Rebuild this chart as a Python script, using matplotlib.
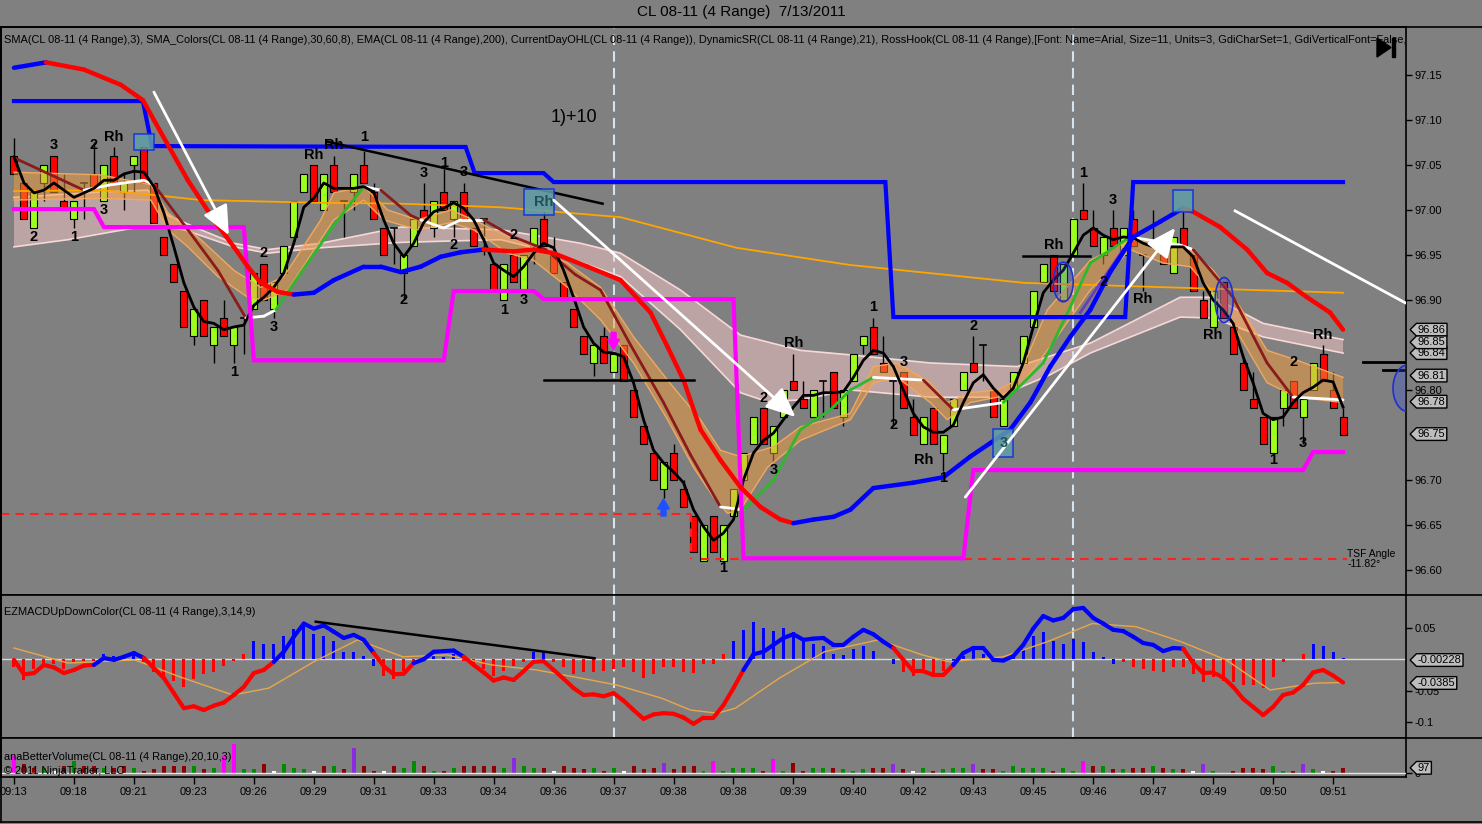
import numpy as np
import matplotlib
matplotlib.use("Agg")
import matplotlib.pyplot as plt
from matplotlib.patches import Rectangle, Ellipse, Polygon
from matplotlib.collections import LineCollection
from matplotlib.path import Path
from matplotlib.lines import Line2D

plt.rcParams['font.family'] = ['Liberation Sans', 'DejaVu Sans']

# ---------------------------------------------------------------- data
time_labels = ["09:13", "09:18", "09:21", "09:23", "09:26", "09:29", "09:31", "09:33",
               "09:34", "09:36", "09:37", "09:38", "09:38", "09:39", "09:40", "09:42",
               "09:43", "09:45", "09:46", "09:47", "09:49", "09:50", "09:51"]
time_tick_bars = [0, 6, 12, 18, 24, 30, 36, 42, 48, 54, 60, 66, 72, 78, 84, 90,
                  96, 102, 108, 114, 120, 126, 132]

opens = [97.06, 97.03, 96.98, 97.03, 97.06, 97.01, 96.99, 97.03, 97.04, 97.01,
         97.06, 97.02, 97.05, 97.07, 97.03, 96.97, 96.94, 96.91, 96.86, 96.90,
         96.85, 96.88, 96.85, 96.88, 96.89, 96.94, 96.89, 96.93, 96.97, 97.02,
         97.05, 97.00, 97.05, 97.01, 97.02, 97.05, 97.02, 96.98, 96.98, 96.93,
         96.96, 97.00, 96.98, 97.02, 96.99, 97.02, 96.98, 96.99, 96.94, 96.90,
         96.95, 96.91, 96.96, 96.99, 96.95, 96.92, 96.89, 96.86, 96.83, 96.86,
         96.82, 96.85, 96.80, 96.76, 96.73, 96.69, 96.73, 96.69, 96.66, 96.61,
         96.66, 96.61, 96.66, 96.70, 96.74, 96.78, 96.73, 96.77, 96.81, 96.79,
         96.77, 96.81, 96.82, 96.77, 96.81, 96.85, 96.87, 96.83, 96.81, 96.82,
         96.77, 96.74, 96.78, 96.73, 96.76, 96.80, 96.83, 96.85, 96.80, 96.76,
         96.80, 96.83, 96.87, 96.92, 96.95, 96.90, 96.95, 97.00, 96.98, 96.95,
         96.98, 96.95, 96.99, 96.95, 96.96, 96.95, 96.93, 96.98, 96.95, 96.90,
         96.87, 96.92, 96.87, 96.83, 96.79, 96.77, 96.73, 96.78, 96.81, 96.77,
         96.80, 96.84, 96.80, 96.77]
highs = [97.08, 97.03, 97.02, 97.05, 97.06, 97.04, 97.01, 97.03, 97.075, 97.05,
         97.07, 97.04, 97.06, 97.07, 97.03, 96.97, 96.94, 96.91, 96.89, 96.90,
         96.87, 96.90, 96.87, 96.88, 96.93, 96.94, 96.92, 96.96, 97.01, 97.04,
         97.05, 97.04, 97.06, 97.01, 97.04, 97.065, 97.03, 96.98, 96.98, 96.95,
         96.99, 97.03, 97.01, 97.045, 97.01, 97.03, 96.98, 96.99, 96.94, 96.94,
         96.95, 96.95, 96.98, 97.00, 96.97, 96.92, 96.89, 96.86, 96.85, 96.87,
         96.84, 96.85, 96.80, 96.76, 96.73, 96.72, 96.74, 96.70, 96.66, 96.65,
         96.66, 96.65, 96.69, 96.73, 96.77, 96.78, 96.76, 96.80, 96.84, 96.81,
         96.80, 96.81, 96.82, 96.80, 96.84, 96.86, 96.88, 96.86, 96.81, 96.82,
         96.79, 96.77, 96.78, 96.75, 96.79, 96.82, 96.86, 96.85, 96.80, 96.79,
         96.82, 96.86, 96.91, 96.94, 96.95, 96.94, 96.99, 97.03, 97.00, 96.97,
         97.00, 96.98, 97.00, 96.95, 97.00, 96.95, 96.97, 97.00, 96.95, 96.91,
         96.91, 96.92, 96.87, 96.84, 96.82, 96.77, 96.77, 96.80, 96.81, 96.79,
         96.83, 96.85, 96.82, 96.78]
lows = [97.04, 96.99, 96.98, 97.01, 97.02, 97.00, 96.98, 96.99, 97.025, 97.01,
        97.03, 97.00, 97.02, 97.03, 96.985, 96.95, 96.92, 96.87, 96.85, 96.86,
        96.83, 96.86, 96.83, 96.84, 96.89, 96.90, 96.88, 96.93, 96.97, 97.02,
        97.01, 97.00, 97.02, 96.97, 97.00, 97.03, 96.99, 96.95, 96.94, 96.90,
        96.96, 96.99, 96.97, 97.00, 96.97, 96.99, 96.96, 96.95, 96.91, 96.90,
        96.92, 96.91, 96.94, 96.96, 96.93, 96.90, 96.87, 96.84, 96.815, 96.83,
        96.82, 96.81, 96.77, 96.74, 96.70, 96.68, 96.70, 96.67, 96.62, 96.61,
        96.62, 96.61, 96.66, 96.70, 96.74, 96.74, 96.72, 96.77, 96.80, 96.78,
        96.77, 96.77, 96.78, 96.76, 96.81, 96.84, 96.84, 96.82, 96.76, 96.78,
        96.75, 96.74, 96.74, 96.71, 96.76, 96.80, 96.82, 96.81, 96.77, 96.76,
        96.80, 96.83, 96.87, 96.92, 96.91, 96.90, 96.95, 96.99, 96.96, 96.94,
        96.96, 96.95, 96.96, 96.91, 96.96, 96.94, 96.93, 96.96, 96.91, 96.88,
        96.87, 96.88, 96.84, 96.80, 96.78, 96.74, 96.73, 96.76, 96.78, 96.74,
        96.80, 96.81, 96.78, 96.75]
closes = [97.04, 96.99, 97.02, 97.05, 97.02, 97.00, 97.01, 97.03, 97.025, 97.05,
          97.03, 97.03, 97.06, 97.03, 96.985, 96.95, 96.92, 96.87, 96.89, 96.86,
          96.87, 96.86, 96.87, 96.88, 96.93, 96.90, 96.92, 96.96, 97.01, 97.04,
          97.01, 97.04, 97.02, 97.01, 97.04, 97.03, 96.99, 96.95, 96.98, 96.95,
          96.99, 96.99, 97.01, 97.00, 97.01, 96.99, 96.96, 96.99, 96.91, 96.94,
          96.92, 96.95, 96.98, 96.96, 96.93, 96.90, 96.87, 96.84, 96.85, 96.83,
          96.84, 96.81, 96.77, 96.74, 96.70, 96.72, 96.70, 96.67, 96.62, 96.65,
          96.62, 96.65, 96.69, 96.73, 96.77, 96.74, 96.76, 96.80, 96.80, 96.78,
          96.80, 96.81, 96.78, 96.80, 96.84, 96.86, 96.84, 96.82, 96.81, 96.78,
          96.75, 96.77, 96.74, 96.75, 96.79, 96.82, 96.82, 96.85, 96.77, 96.79,
          96.82, 96.86, 96.91, 96.94, 96.91, 96.94, 96.99, 96.99, 96.96, 96.97,
          96.96, 96.98, 96.96, 96.95, 96.965, 96.94, 96.97, 96.96, 96.91, 96.88,
          96.91, 96.88, 96.84, 96.80, 96.78, 96.74, 96.77, 96.80, 96.78, 96.79,
          96.83, 96.81, 96.78, 96.75]

# SMA(3) line (black), one value per bar
sma3 = [97.059, 97.030, 97.019, 97.022, 97.030, 97.022, 97.014, 97.019, 97.024, 97.033,
        97.033, 97.040, 97.043, 97.042, 97.026, 96.997, 96.959, 96.919, 96.892, 96.876,
        96.874, 96.867, 96.870, 96.872, 96.894, 96.903, 96.914, 96.930, 96.963, 97.003,
        97.013, 97.030, 97.024, 97.024, 97.024, 97.026, 97.020, 96.989, 96.963, 96.948,
        96.963, 96.986, 96.998, 97.002, 97.008, 97.002, 96.989, 96.967, 96.941, 96.933,
        96.926, 96.937, 96.952, 96.963, 96.958, 96.933, 96.903, 96.870, 96.852, 96.842,
        96.841, 96.837, 96.808, 96.767, 96.733, 96.719, 96.709, 96.697, 96.667, 96.648,
        96.633, 96.641, 96.656, 96.700, 96.730, 96.744, 96.752, 96.767, 96.781, 96.794,
        96.794, 96.797, 96.797, 96.798, 96.814, 96.833, 96.844, 96.841, 96.826, 96.800,
        96.774, 96.759, 96.753, 96.753, 96.761, 96.786, 96.808, 96.817, 96.802, 96.791,
        96.802, 96.830, 96.870, 96.908, 96.922, 96.933, 96.952, 96.972, 96.980, 96.972,
        96.967, 96.970, 96.969, 96.963, 96.959, 96.958, 96.959, 96.959, 96.948, 96.919,
        96.900, 96.889, 96.874, 96.837, 96.808, 96.774, 96.767, 96.770, 96.786, 96.797,
        96.803, 96.811, 96.809, 96.781]

# DynamicSR line (red falling / blue rising) vertices
dsr_x = [0, 3.2, 7, 10.7, 12.9, 14, 17.4, 20, 22, 23.4, 24.7, 26.4, 28, 30, 32, 35, 36.7,
         38.7, 40.7, 42.7, 44.7, 47, 50, 52, 54, 57.4, 60.7, 63.7, 65.4, 67, 68.7, 70.7,
         72.7, 74.7, 76.7, 78, 80, 82, 83.7, 86, 90, 93, 95.7, 97.7, 99.7, 101.7, 103.7,
         105.7, 107.7, 109.7, 112, 114.7, 117, 118, 120.7, 123.4, 125.4, 127.4, 129.4,
         131.7, 133]
dsr_p = [97.158, 97.164, 97.156, 97.139, 97.122, 97.100, 97.033, 96.989, 96.959, 96.937,
         96.919, 96.909, 96.906, 96.908, 96.922, 96.937, 96.937, 96.931, 96.937, 96.948,
         96.953, 96.956, 96.954, 96.956, 96.952, 96.937, 96.922, 96.886, 96.848, 96.811,
         96.756, 96.722, 96.692, 96.670, 96.656, 96.652, 96.656, 96.659, 96.667, 96.691,
         96.697, 96.703, 96.726, 96.741, 96.756, 96.786, 96.826, 96.859, 96.889, 96.931,
         96.970, 96.987, 97.002, 96.998, 96.981, 96.956, 96.930, 96.919, 96.903, 96.886,
         96.867]
dsr_color_switch = [(0, 'blue'), (1, 'red'), (12, 'blue'), (21, 'red'), (35, 'blue'), (52, 'red')]

# Upper step line (blue) and CurrentDayOHL step line (magenta)
step_blue_x = [0, 12.9, 13.8, 45.2, 46.1, 53, 54, 87.2, 88, 111.2, 112, 133]
step_blue_p = [97.121, 97.121, 97.071, 97.070, 97.041, 97.041, 97.031, 97.031, 96.881,
               96.881, 97.031, 97.031]
ohl_x = [0, 8, 9, 23, 24, 43, 44, 52, 53, 72, 73, 95, 96, 129, 130, 133]
ohl_p = [97.001, 97.001, 96.981, 96.981, 96.833, 96.833, 96.910, 96.910, 96.901, 96.901,
         96.613, 96.613, 96.711, 96.711, 96.731, 96.731]

# EMA(200) thin orange
ema200_x = [0, 8.7, 13.7, 18.7, 30.7, 38.7, 48.7, 60.7, 72.3, 83.6, 101.1, 133]
ema200_p = [97.021, 97.022, 97.017, 97.011, 97.008, 97.007, 97.003, 96.992, 96.958,
            96.939, 96.919, 96.908]

# SMA_Colors pink band
pink_up_x = [0, 8.7, 13.4, 15.4, 18.7, 22, 25.4, 30.7, 38.7, 48.7, 52, 56.7, 60.7, 66.7,
             72.7, 78.7, 83.7, 91.7, 100.4, 107.7, 116.7, 120, 125, 133]
pink_up_p = [97.014, 97.020, 97.022, 96.994, 96.978, 96.963, 96.956, 96.963, 96.981,
             96.978, 96.972, 96.963, 96.952, 96.911, 96.861, 96.844, 96.839, 96.830,
             96.826, 96.852, 96.903, 96.903, 96.874, 96.856]
pink_lo_x = [0, 5.4, 12, 14, 17, 22, 25.4, 30.7, 38.7, 48.7, 52, 56.7, 60.7, 66.7, 72.7,
             75.4, 78.7, 83.7, 91.7, 98.4, 103.7, 107.7, 116.7, 120, 125, 133]
pink_lo_p = [96.959, 96.967, 96.980, 96.983, 96.978, 96.959, 96.952, 96.958, 96.964,
             96.967, 96.958, 96.942, 96.926, 96.867, 96.797, 96.787, 96.789, 96.800,
             96.792, 96.792, 96.817, 96.841, 96.881, 96.880, 96.859, 96.841]

# SMA_Colors orange band
or_up_x = [0, 8.7, 13.7, 15.4, 18.7, 22, 24.7, 27, 30.7, 32, 35, 37.4, 40.4, 43.7, 46,
           48.7, 52, 55.4, 58.7, 62, 65.4, 68.7, 70.7, 72.7, 76, 78.7, 83.7, 86, 88.4,
           91.7, 93.4, 95.7, 98.4, 100.4, 103.4, 107.7, 111.7, 115, 117.7, 120, 122.7,
           125.4, 128.4, 133]
or_up_p = [97.042, 97.039, 97.028, 96.997, 96.967, 96.933, 96.914, 96.926, 96.989, 97.019,
           97.026, 97.000, 96.989, 97.000, 96.989, 96.974, 96.959, 96.941, 96.914, 96.859,
           96.811, 96.767, 96.733, 96.726, 96.737, 96.759, 96.774, 96.826, 96.830, 96.808,
           96.786, 96.797, 96.800, 96.811, 96.889, 96.944, 96.967, 96.963, 96.956, 96.933,
           96.892, 96.844, 96.833, 96.814]
or_lo_x = [0, 8.7, 13.7, 15.4, 17.4, 20.4, 23.4, 25, 27.4, 30.7, 32, 35, 37, 40.4, 43.7,
           46, 49.4, 52, 55.4, 58.7, 62, 65.4, 68, 70, 71.4, 72.7, 75.4, 78.7, 83.7, 86,
           88.4, 91.7, 93.4, 95.7, 98.4, 100.4, 103.4, 107.7, 111.7, 115, 117.7, 120,
           122.7, 125.4, 128.4, 133]
or_lo_p = [97.011, 97.013, 97.011, 96.978, 96.959, 96.926, 96.903, 96.900, 96.911, 96.967,
           96.989, 97.011, 96.989, 96.978, 96.986, 96.978, 96.952, 96.944, 96.914, 96.878,
           96.830, 96.767, 96.714, 96.681, 96.663, 96.667, 96.714, 96.744, 96.767, 96.808,
           96.814, 96.786, 96.767, 96.786, 96.792, 96.800, 96.844, 96.911, 96.956, 96.941,
           96.937, 96.908, 96.859, 96.808, 96.792, 96.786]

# fast SMA_Colors line (dark red / white / green)
fast_x = [0, 3.7, 7, 9.7, 13, 14, 17.4, 20.4, 23.2, 25, 26.2, 28.7, 32, 35, 36.7, 39.7,
          40.7, 43, 44.7, 47, 50, 53.2, 56.2, 58.7, 61.7, 65, 67.7, 70.7, 73, 76, 78.7,
          81.7, 83.7, 86, 91, 94, 99, 103, 105.7, 107.7, 111.7, 116.7, 118, 122, 125.4,
          128, 133]
fast_p = [97.058, 97.039, 97.022, 97.028, 97.033, 97.028, 96.978, 96.933, 96.880, 96.882,
          96.889, 96.930, 96.983, 97.026, 97.022, 96.994, 96.989, 96.980, 96.989, 96.989,
          96.970, 96.956, 96.928, 96.911, 96.850, 96.786, 96.728, 96.670, 96.667, 96.700,
          96.756, 96.778, 96.800, 96.814, 96.811, 96.778, 96.786, 96.830, 96.892, 96.941,
          96.970, 96.961, 96.956, 96.903, 96.830, 96.792, 96.789]
fast_color_switch = [(0, 'dred'), (2, 'white'), (5, 'dred'), (8, 'white'), (10, 'green'),
                     (13, 'white'), (14, 'dred'), (16, 'white'), (19, 'dred'), (27, 'white'),
                     (28, 'green'), (33, 'white'), (34, 'dred'), (35, 'white'), (36, 'green'),
                     (40, 'white'), (42, 'dred'), (45, 'white')]
purple_x = [106.7, 111]
purple_p = [96.886, 96.956]

# price markers
support_dash_p = [96.662, 96.612]
rh_box_x0 = [12, 51, 98, 116]
rh_box_x1 = [14, 54, 100, 118]
rh_box_lo = [97.067, 96.994, 96.726, 96.998]
rh_box_hi = [97.084, 97.023, 96.757, 97.022]
ell_x = [105, 121.1, 139.5]
ell_p = [96.920, 96.900, 96.802]
ell_w = [2.0, 1.8, 3.0]
ell_h = [0.044, 0.050, 0.052]

swing_labels = [("3", 4, 97.072), ("Rh", 10, 97.081), ("2", 8, 97.072), ("2", 2, 96.970),
                ("1", 6, 96.970), ("3", 9, 97.000), ("1", 22, 96.820), ("2", 25, 96.952),
                ("3", 26, 96.870), ("Rh", 30, 97.061), ("Rh", 32, 97.072), ("1", 35, 97.081),
                ("3", 41, 97.041), ("1", 43, 97.052), ("3", 45, 97.042), ("2", 39, 96.900),
                ("2", 44, 96.961), ("2", 50, 96.972), ("1", 49, 96.889), ("3", 51, 96.900),
                ("1", 71, 96.602), ("2", 75, 96.791), ("3", 76, 96.711), ("Rh", 78, 96.852),
                ("1", 86, 96.892), ("3", 89, 96.831), ("2", 88, 96.761), ("Rh", 91, 96.722),
                ("1", 93, 96.702), ("2", 96, 96.871), ("Rh", 104, 96.961), ("1", 107, 97.041),
                ("3", 110, 97.011), ("2", 109, 96.920), ("Rh", 113, 96.901), ("Rh", 120, 96.861),
                ("2", 128, 96.831), ("Rh", 131, 96.861), ("1", 126, 96.722), ("3", 129, 96.741)]
box_labels = [("Rh", 53, 97.009), ("3", 99, 96.741)]

price_tags = [("96.86", 96.867), ("96.84", 96.841), ("96.85", 96.853), ("96.81", 96.816),
              ("96.78", 96.787), ("96.75", 96.751)]
price_ticks = [96.60, 96.65, 96.70, 96.80, 96.90, 96.95, 97.00, 97.05, 97.10, 97.15]

# MACD panel
macd = [-0.001, -0.024, -0.022, -0.009, -0.013, -0.022, -0.017, -0.010, -0.009, 0.002,
        -0.001, 0.004, 0.010, 0.002, -0.014, -0.030, -0.054, -0.078, -0.075, -0.081,
        -0.074, -0.069, -0.057, -0.044, -0.022, -0.017, -0.004, 0.012, 0.036, 0.057,
        0.049, 0.054, 0.044, 0.034, 0.039, 0.031, 0.010, -0.011, -0.024, -0.023,
        -0.006, 0.000, 0.012, 0.013, 0.014, 0.004, -0.009, -0.021, -0.034, -0.029,
        -0.033, -0.019, -0.004, -0.003, -0.017, -0.031, -0.046, -0.057, -0.056, -0.059,
        -0.054, -0.066, -0.081, -0.095, -0.088, -0.086, -0.087, -0.093, -0.103, -0.093,
        -0.093, -0.073, -0.046, -0.017, 0.008, 0.012, 0.023, 0.034, 0.040, 0.031,
        0.033, 0.034, 0.023, 0.023, 0.036, 0.047, 0.040, 0.028, 0.018, -0.001,
        -0.019, -0.019, -0.025, -0.025, -0.009, 0.010, 0.018, 0.018, -0.001, -0.002,
        0.005, 0.023, 0.049, 0.069, 0.062, 0.066, 0.080, 0.082, 0.066, 0.057,
        0.047, 0.045, 0.036, 0.026, 0.023, 0.013, 0.018, 0.017, -0.006, -0.022,
        -0.021, -0.029, -0.044, -0.063, -0.076, -0.089, -0.076, -0.057, -0.053, -0.041,
        -0.021, -0.017, -0.026, -0.037]
macd_color_switch = [(0, 'red'), (8, 'blue'), (13, 'red'), (26, 'blue'), (36, 'red'),
                     (40, 'blue'), (45, 'red'), (73, 'blue'), (88, 'red'), (94, 'blue'),
                     (117, 'red')]
hist = [-0.012, -0.033, -0.015, -0.011, -0.008, -0.015, -0.005, -0.002, -0.003, 0.009,
        0.005, 0.005, 0.010, -0.005, -0.020, -0.027, -0.035, -0.044, -0.032, -0.024,
        -0.020, -0.011, -0.002, 0.008, 0.029, 0.025, 0.025, 0.037, 0.048, 0.053,
        0.040, 0.037, 0.029, 0.011, 0.011, 0.005, -0.011, -0.027, -0.032, -0.019,
        -0.008, -0.003, 0.005, 0.004, 0.008, -0.003, -0.011, -0.016, -0.027, -0.018,
        -0.011, -0.004, 0.011, 0.011, -0.005, -0.013, -0.024, -0.021, -0.021, -0.019,
        -0.015, -0.012, -0.021, -0.030, -0.024, -0.012, -0.012, -0.021, -0.022, -0.008,
        -0.008, 0.009, 0.029, 0.047, 0.060, 0.050, 0.045, 0.050, 0.043, 0.029,
        0.024, 0.021, 0.008, 0.007, 0.016, 0.021, 0.013, 0.001, -0.008, -0.021,
        -0.027, -0.016, -0.024, -0.019, -0.008, 0.005, 0.019, 0.008, 0.001, -0.001,
        0.005, 0.016, 0.037, 0.043, 0.029, 0.024, 0.032, 0.028, 0.011, 0.004,
        -0.007, -0.005, -0.013, -0.016, -0.018, -0.021, -0.012, -0.012, -0.024, -0.036,
        -0.029, -0.035, -0.037, -0.041, -0.041, -0.046, -0.028, -0.005, 0.001, 0.008,
        0.024, 0.021, 0.011, 0.002]
hist_colors = "".join(["rrrrrrrrr", "bbbb", "rrrrrrrrrrr", "bbbbbbbbbbbbb", "rrrrr", "bbb",
                       "rrrrrrr", "bb", "rrrrrrrrrrrrrrrrrr", "bbbbbbbbbbbbbbbbb", "rrrrr",
                       "bbbbb", "r", "bbbbbbbbbbb", "rrrrrrrrrrrrrrrrrrr", "bbbb"])
signal_x = [0, 5.4, 12.1, 16.6, 21.9, 25.5, 30.0, 34.4, 38.9, 43.3, 47.8, 52.3, 56.7, 60.3,
            64.8, 67.7, 70.4, 72.2, 76.6, 81.1, 86.5, 90.9, 93.6, 99.0, 103.4, 107.9, 112.3,
            116.8, 121.3, 125.7, 130.2, 133]
signal_v = [0.018, -0.006, -0.001, -0.028, -0.057, -0.046, -0.004, 0.031, 0.004, 0.007,
            -0.009, -0.017, -0.030, -0.041, -0.062, -0.081, -0.086, -0.078, -0.030, 0.012,
            0.031, 0.007, -0.004, 0.004, 0.028, 0.057, 0.052, 0.028, -0.001, -0.049,
            -0.038, -0.037]
macd_ticks = [0.05, -0.05, -0.1]
macd_tick_labels = ["0.05", "-0.05", "-0.1"]
macd_tags = [("-0.00228", -0.0012), ("-0.0385", -0.0378)]

# Volume panel
volumes = [349, 194, 116, 97, 39, 136, 252, 136, 155, 97,
           97, 136, 97, 39, 78, 136, 136, 136, 136, 78,
           97, 330, 582, 78, 78, 175, 58, 175, 97, 78,
           39, 136, 136, 78, 504, 136, 58, 39, 136, 97,
           233, 136, 58, 58, 97, 136, 155, 136, 136, 97,
           310, 136, 116, 116, 58, 155, 116, 78, 97, 58,
           97, 39, 155, 78, 97, 213, 78, 155, 155, 39,
           252, 39, 97, 97, 97, 39, 272, 58, 213, 58,
           97, 97, 97, 78, 58, 78, 97, 97, 175, 78,
           39, 97, 58, 78, 97, 97, 194, 78, 78, 58,
           155, 97, 97, 97, 58, 116, 58, 252, 136, 136,
           78, 78, 97, 116, 155, 116, 78, 78, 39, 175,
           58, 19, 39, 116, 116, 78, 155, 39, 39, 175,
           78, 39, 58, 97]
volume_colors = ("mddgwdgddg" "ddgdddddgd" "gmmggdwggg" "wdgdpddwdg" "gdgdgddddg"
                 "pggdwdddgd" "gwdddpdddg" "mggggdmgdd" "ggdgggddpd" "wgdgggpddg"
                 "ggggdggmdg" "dgddgdgdwp" "gwddddggdp" "gwdd")
volume_tag = ("97", 110)

# ---------------------------------------------------------------- style
BG = '#808080'
CGREEN = '#9CFF1E'
CRED = '#FF0000'
PALETTE = {'red': '#FF0000', 'blue': '#0000FF', 'dred': '#8B1A1A', 'white': '#FFFFFF',
           'green': '#2DB82D'}
VOLPAL = {'d': '#8B0000', 'g': '#008C00', 'w': '#FFFFFF', 'm': '#FF00FF', 'p': '#8A2BE2'}

W, H = 1482, 824
fig = plt.figure(figsize=(W / 100, H / 100), dpi=100, facecolor=BG)


def fx(px):
    return px / W


def fy(py):
    return 1 - py / H


LEFT = fx(1)
AXW = fx(1405)
ax = fig.add_axes([LEFT, fy(595), AXW, (595 - 27) / H], facecolor=BG)
ax2 = fig.add_axes([LEFT, fy(738), AXW, (738 - 595) / H], facecolor=BG, sharex=ax)
ax3 = fig.add_axes([LEFT, fy(777), AXW, (777 - 738) / H], facecolor=BG, sharex=ax)

XMIN, XMAX = -1.3, 139.3
ax.set_xlim(XMIN, XMAX)
ax.set_ylim(96.5722, 97.2033)
ax2.set_ylim(-0.1256, 0.1026)
ax3.set_ylim(-68, 689)

for a in (ax, ax2, ax3):
    for s in a.spines.values():
        s.set_color('black')
        s.set_linewidth(1.2)
    a.yaxis.tick_right()
    a.tick_params(axis='y', direction='out', length=4, width=1, colors='black',
                  labelsize=8, pad=2)


def tag_box(x0, y0, width, height, mutation_size):
    pad = mutation_size * 0.12
    x0, y0 = x0 - pad, y0 - pad
    x1, y1 = x0 + width + 2 * pad, y0 + height + 2 * pad
    dx = (y1 - y0) / 2
    return Path([(x0, y0), (x1, y0), (x1, y1), (x0, y1), (x0 - dx, (y0 + y1) / 2), (x0, y0)],
                closed=True)


def add_tag(a, text, val):
    a.annotate(text, xy=(1.0, val), xycoords=('axes fraction', 'data'), xytext=(8.5, 0),
               textcoords='offset points', ha='left', va='center', fontsize=8,
               color='black', annotation_clip=False,
               bbox=dict(boxstyle=tag_box, fc='#BDBDBD', ec='black', lw=1))


def colored_line(a, xs, ys, switches, palette, lw, z):
    sw = dict(switches)
    cols, cur = [], None
    for k in range(len(xs) - 1):
        if k in sw:
            cur = sw[k]
        cols.append(palette[cur])
    segs = [[(xs[k], ys[k]), (xs[k + 1], ys[k + 1])] for k in range(len(xs) - 1)]
    a.add_collection(LineCollection(segs, colors=cols, linewidths=lw, zorder=z,
                                    capstyle='round', joinstyle='round'))


# ---------------------------------------------------------------- main panel
idx = np.arange(len(closes))

# pink band
ax.fill(np.r_[pink_up_x, pink_lo_x[::-1]], np.r_[pink_up_p, pink_lo_p[::-1]],
        color='#EFC3C3', alpha=0.55, lw=0, zorder=1)
ax.plot(pink_up_x, pink_up_p, color='#F6D8D8', lw=1.2, zorder=1.2)
ax.plot(pink_lo_x, pink_lo_p, color='#F6D8D8', lw=1.2, zorder=1.2)

# candles
for i in idx:
    o, h, l, c = opens[i], highs[i], lows[i], closes[i]
    ax.plot([i, i], [l, h], color='black', lw=1, zorder=2, solid_capstyle='butt')
    if abs(c - o) < 1e-9:
        ax.plot([i - 0.3, i + 0.3], [c, c], color='black', lw=1.2, zorder=2.1)
    else:
        col = CGREEN if c > o else CRED
        ax.add_patch(Rectangle((i - 0.35, min(o, c)), 0.7, abs(c - o), fc=col, ec='black',
                               lw=0.8, zorder=2.1))

# orange band (drawn over candles, translucent)
ax.fill(np.r_[or_up_x, or_lo_x[::-1]], np.r_[or_up_p, or_lo_p[::-1]],
        color='#F59A3C', alpha=0.5, lw=0, zorder=3)
ax.plot(or_up_x, or_up_p, color='#F0A860', lw=1, zorder=3.1)
ax.plot(or_lo_x, or_lo_p, color='#F0A860', lw=1, zorder=3.1)

# EMA 200
ax.plot(ema200_x, ema200_p, color='#FFA500', lw=1.3, zorder=3.2)

# fast coloured SMA
colored_line(ax, fast_x, fast_p, fast_color_switch, PALETTE, 2.0, 4)
ax.plot(purple_x, purple_p, color='#6A3DB8', lw=2, zorder=4)

# SMA 3
ax.plot(idx, sma3, color='black', lw=2, zorder=5)

# support dashed lines
ax.plot([XMIN, 67.7], [support_dash_p[0]] * 2, color='#FF2020', lw=1.5, ls=(0, (4, 3)), zorder=4.5)
ax.plot([67.7, 67.7], support_dash_p, color='#FF2020', lw=1.5, ls=(0, (4, 3)), zorder=4.5)
ax.plot([68.7, 133.4], [support_dash_p[1]] * 2, color='#FF2020', lw=1.5, ls=(0, (4, 3)), zorder=4.5)

# step lines
ax.plot(ohl_x, ohl_p, color='#FF00FF', lw=3, zorder=5.4, solid_joinstyle='miter')
ax.plot(step_blue_x, step_blue_p, color='#0000FF', lw=3, zorder=5.5, solid_joinstyle='miter')
colored_line(ax, dsr_x, dsr_p, dsr_color_switch, PALETTE, 3.2, 5.6)

# vertical dashed session lines
for a in (ax, ax2):
    for xv in (60, 106):
        a.axvline(xv, color='#D5E2F0', lw=1.5, ls=(0, (5, 3)), zorder=1.5)

# trend lines
ax.plot([31.3, 58.9], [97.076, 97.007], color='black', lw=1.8, zorder=6)
ax.plot([53, 68], [96.811, 96.811], color='black', lw=1.8, zorder=6)
ax.plot([101, 107.7], [96.949, 96.949], color='black', lw=1.8, zorder=6)
ax.plot([135, 139.3], [96.831, 96.831], color='black', lw=2, zorder=6)
ax.plot([137, 139.3], [96.822, 96.822], color='black', lw=2, zorder=6)
ax.plot([122.2, 139.2], [96.999, 96.897], color='white', lw=2, zorder=6)

# white arrows
for (x0, y0, x1, y1) in [(14, 97.131, 21.5, 96.972), (54, 97.011, 78.2, 96.770),
                         (95.2, 96.681, 116.2, 96.980)]:
    ax.annotate('', xy=(x1, y1), xytext=(x0, y0),
                arrowprops=dict(arrowstyle='-|>,head_length=1.0,head_width=0.45',
                                color='white', lw=2, mutation_scale=18,
                                shrinkA=0, shrinkB=0), zorder=6.5)

# small arrows
ax.annotate('', xy=(65, 96.679), xytext=(65, 96.660),
            arrowprops=dict(arrowstyle='simple,head_length=0.6,head_width=0.7,tail_width=0.3',
                            color='#1E50FF', shrinkA=0, shrinkB=0, mutation_scale=12), zorder=6)
ax.annotate('', xy=(60, 96.845), xytext=(60, 96.864),
            arrowprops=dict(arrowstyle='simple,head_length=0.6,head_width=0.7,tail_width=0.3',
                            color='#FF00FF', shrinkA=0, shrinkB=0, mutation_scale=12), zorder=6)

# Rh boxes and ellipses
for x0, x1, lo, hi in zip(rh_box_x0, rh_box_x1, rh_box_lo, rh_box_hi):
    ax.add_patch(Rectangle((x0, lo), x1 - x0, hi - lo, fc='#5F9EA8', alpha=0.85,
                           ec='#1030E0', lw=1.2, zorder=6.2))
for cx, cy, w, h in zip(ell_x, ell_p, ell_w, ell_h):
    ax.add_patch(Ellipse((cx, cy), w, h, fc=(0.2, 0.3, 0.9, 0.3), ec='#2030D0', lw=1.2,
                         zorder=6.3))

# swing labels
for t, xi, yp in swing_labels:
    ax.text(xi, yp, t, ha='center', va='center', fontsize=10.5, fontweight='bold',
            color='black', zorder=7)
for t, xi, yp in box_labels:
    ax.text(xi, yp, t, ha='center', va='center', fontsize=10.5, fontweight='bold',
            color='#1F4F55', zorder=7)

ax.text(56, 97.103, '1)+10', ha='center', va='center', fontsize=13, color='black', zorder=7)
ax.text(133.4, 96.6125, 'TSF Angle\n-11.82°', ha='left', va='center', fontsize=7.5,
        color='black', linespacing=1.0, zorder=7)

ax.text(0.002, 0.977,
        'SMA(CL 08-11 (4 Range),3), SMA_Colors(CL 08-11 (4 Range),30,60,8), '
        'EMA(CL 08-11 (4 Range),200), CurrentDayOHL(CL 08-11 (4 Range)), '
        'DynamicSR(CL 08-11 (4 Range),21), RossHook(CL 08-11 (4 Range),[Font: Name=Arial, '
        'Size=11, Units=3, GdiCharSet=1, GdiVerticalFont=False, Bold=True])',
        transform=ax.transAxes, ha='left', va='center', fontsize=7.9, color='black',
        clip_on=True, zorder=8)

ax.set_yticks(price_ticks)
ax.set_yticklabels([f"{v:.2f}" for v in price_ticks])
for t, v in price_tags:
    add_tag(ax, t, v)
ax.tick_params(axis='x', bottom=False, labelbottom=False)

# ---------------------------------------------------------------- MACD panel
ax2.axhline(0, color='#D8D8D8', lw=1, zorder=1)
ax2.bar(idx, hist, width=0.3, color=[PALETTE['red'] if c == 'r' else PALETTE['blue']
                                      for c in hist_colors], zorder=2)
ax2.plot(signal_x, signal_v, color='#E8A84A', lw=1, zorder=3)
colored_line(ax2, idx, macd, macd_color_switch, PALETTE, 3, 4)
ax2.plot([30.2, 58.1], [0.060, 0.0016], color='black', lw=1.8, zorder=5)
ax2.text(0.002, 0.881, 'EZMACDUpDownColor(CL 08-11 (4 Range),3,14,9)', transform=ax2.transAxes,
         ha='left', va='center', fontsize=7.9, color='black')
ax2.set_yticks(macd_ticks)
ax2.set_yticklabels(macd_tick_labels)
for t, v in macd_tags:
    add_tag(ax2, t, v)
ax2.tick_params(axis='x', bottom=False, labelbottom=False)

# ---------------------------------------------------------------- Volume panel
ax3.bar(idx, volumes, width=0.4, color=[VOLPAL[c] for c in volume_colors], zorder=2)
ax3.axhline(0, color='#E6E6E6', lw=1, zorder=3)
ax3.text(0.002, 0.51, 'anaBetterVolume(CL 08-11 (4 Range),20,10,3)', transform=ax3.transAxes,
         ha='left', va='center', fontsize=7.9, color='black', zorder=4)
ax3.text(0.002, 0.15, '© 2011 NinjaTrader, LLC', transform=ax3.transAxes,
         ha='left', va='center', fontsize=7.9, color='black', zorder=4)
ax3.set_yticks([0])
ax3.set_yticklabels(['0'])
add_tag(ax3, volume_tag[0], volume_tag[1])
ax3.set_xticks(time_tick_bars)
ax3.set_xticklabels(time_labels)
ax3.tick_params(axis='x', direction='out', length=5, width=1, colors='black', labelsize=8, pad=2)

# ---------------------------------------------------------------- frame & title
fig.text(0.5, fy(12), 'CL 08-11 (4 Range)  7/13/2011', ha='center', va='center',
         fontsize=11, color='black')
for (x0, y0, x1, y1) in [(0, 27, W, 27), (1406, 595, W, 595), (1406, 738, W, 738),
                         (0, 822, W, 822), (0.5, 27, 0.5, 822)]:
    fig.add_artist(Line2D([fx(x0), fx(x1)], [fy(y0), fy(y1)], transform=fig.transFigure,
                          color='black', lw=1.2))
# "jump to end" icon drawn as shapes (not text)
fig.add_artist(Polygon([(fx(1377), fy(38)), (fx(1377), fy(57)), (fx(1391), fy(47.5))],
                       closed=True, transform=fig.transFigure, color='black', zorder=9))
fig.add_artist(Rectangle((fx(1392), fy(57)), fx(3), 19 / H, transform=fig.transFigure,
                         color='black', zorder=9))

fig.savefig('out.png', dpi=100, facecolor=BG)
